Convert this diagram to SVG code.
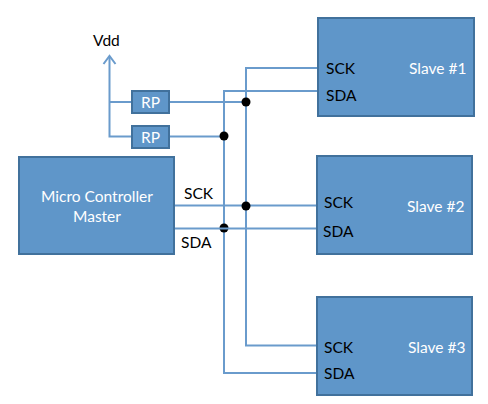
<svg xmlns="http://www.w3.org/2000/svg" width="488" height="404" viewBox="0 0 488 404">
<style>
text{font-family:"Lato","Liberation Sans",sans-serif;font-size:15.5px}
.b{fill:#5f96c9;stroke:#41719c;stroke-width:2}
.w{fill:#fff}
.k{fill:#000}
.c{fill:none;stroke:#6a9bcc;stroke-width:2}
.d{fill:#000}
</style>
<rect width="488" height="404" fill="#fff"/>
<g id="connectors">
<path class="c" d="M109.500 57V136.500H132M109.500 102H132M170 102H246M170 136.500H224"/>
<path class="c" d="M103.500 64L109.500 56L115.500 64"/>
<path class="c" d="M318 68H246V345.500H318M318 91H224V373H318"/>
<path class="c" d="M175 205.500H318"/>
<circle class="d" cx="246" cy="102" r="4.500"/>
<circle class="d" cx="224" cy="136" r="4.500"/>
<circle class="d" cx="246" cy="206" r="4.500"/>
<circle class="d" cx="224" cy="228" r="4.500"/>
<path class="c" d="M175 228.500H318"/>
</g>
<g id="vdd"><text class="k" x="93" y="46">Vdd</text></g>
<g id="rp1"><rect class="b" x="132" y="91" width="37" height="22"/><text class="w" x="150.500" y="108" text-anchor="middle">RP</text></g>
<g id="rp2"><rect class="b" x="132" y="126" width="37" height="22"/><text class="w" x="150.500" y="143" text-anchor="middle">RP</text></g>
<g id="master"><rect class="b" x="19" y="157" width="155" height="97"/><text class="w" x="97" y="202" text-anchor="middle">Micro Controller</text><text class="w" x="97" y="222" text-anchor="middle">Master</text></g>
<g id="sck-label"><text class="k" x="184" y="199">SCK</text></g>
<g id="sda-label"><text class="k" x="181" y="248">SDA</text></g>
<g id="slave1"><rect class="b" x="318" y="18" width="156" height="98"/><text class="k" x="326" y="74">SCK</text><text class="k" x="326" y="101">SDA</text><text class="w" x="409" y="74">Slave #1</text></g>
<g id="slave2"><rect class="b" x="317" y="156" width="155" height="98"/><text class="k" x="324" y="208">SCK</text><text class="k" x="323" y="237">SDA</text><text class="w" x="407" y="212">Slave #2</text></g>
<g id="slave3"><rect class="b" x="317" y="297" width="155" height="98"/><text class="k" x="324" y="353">SCK</text><text class="k" x="324" y="379">SDA</text><text class="w" x="408" y="353">Slave #3</text></g>
</svg>
